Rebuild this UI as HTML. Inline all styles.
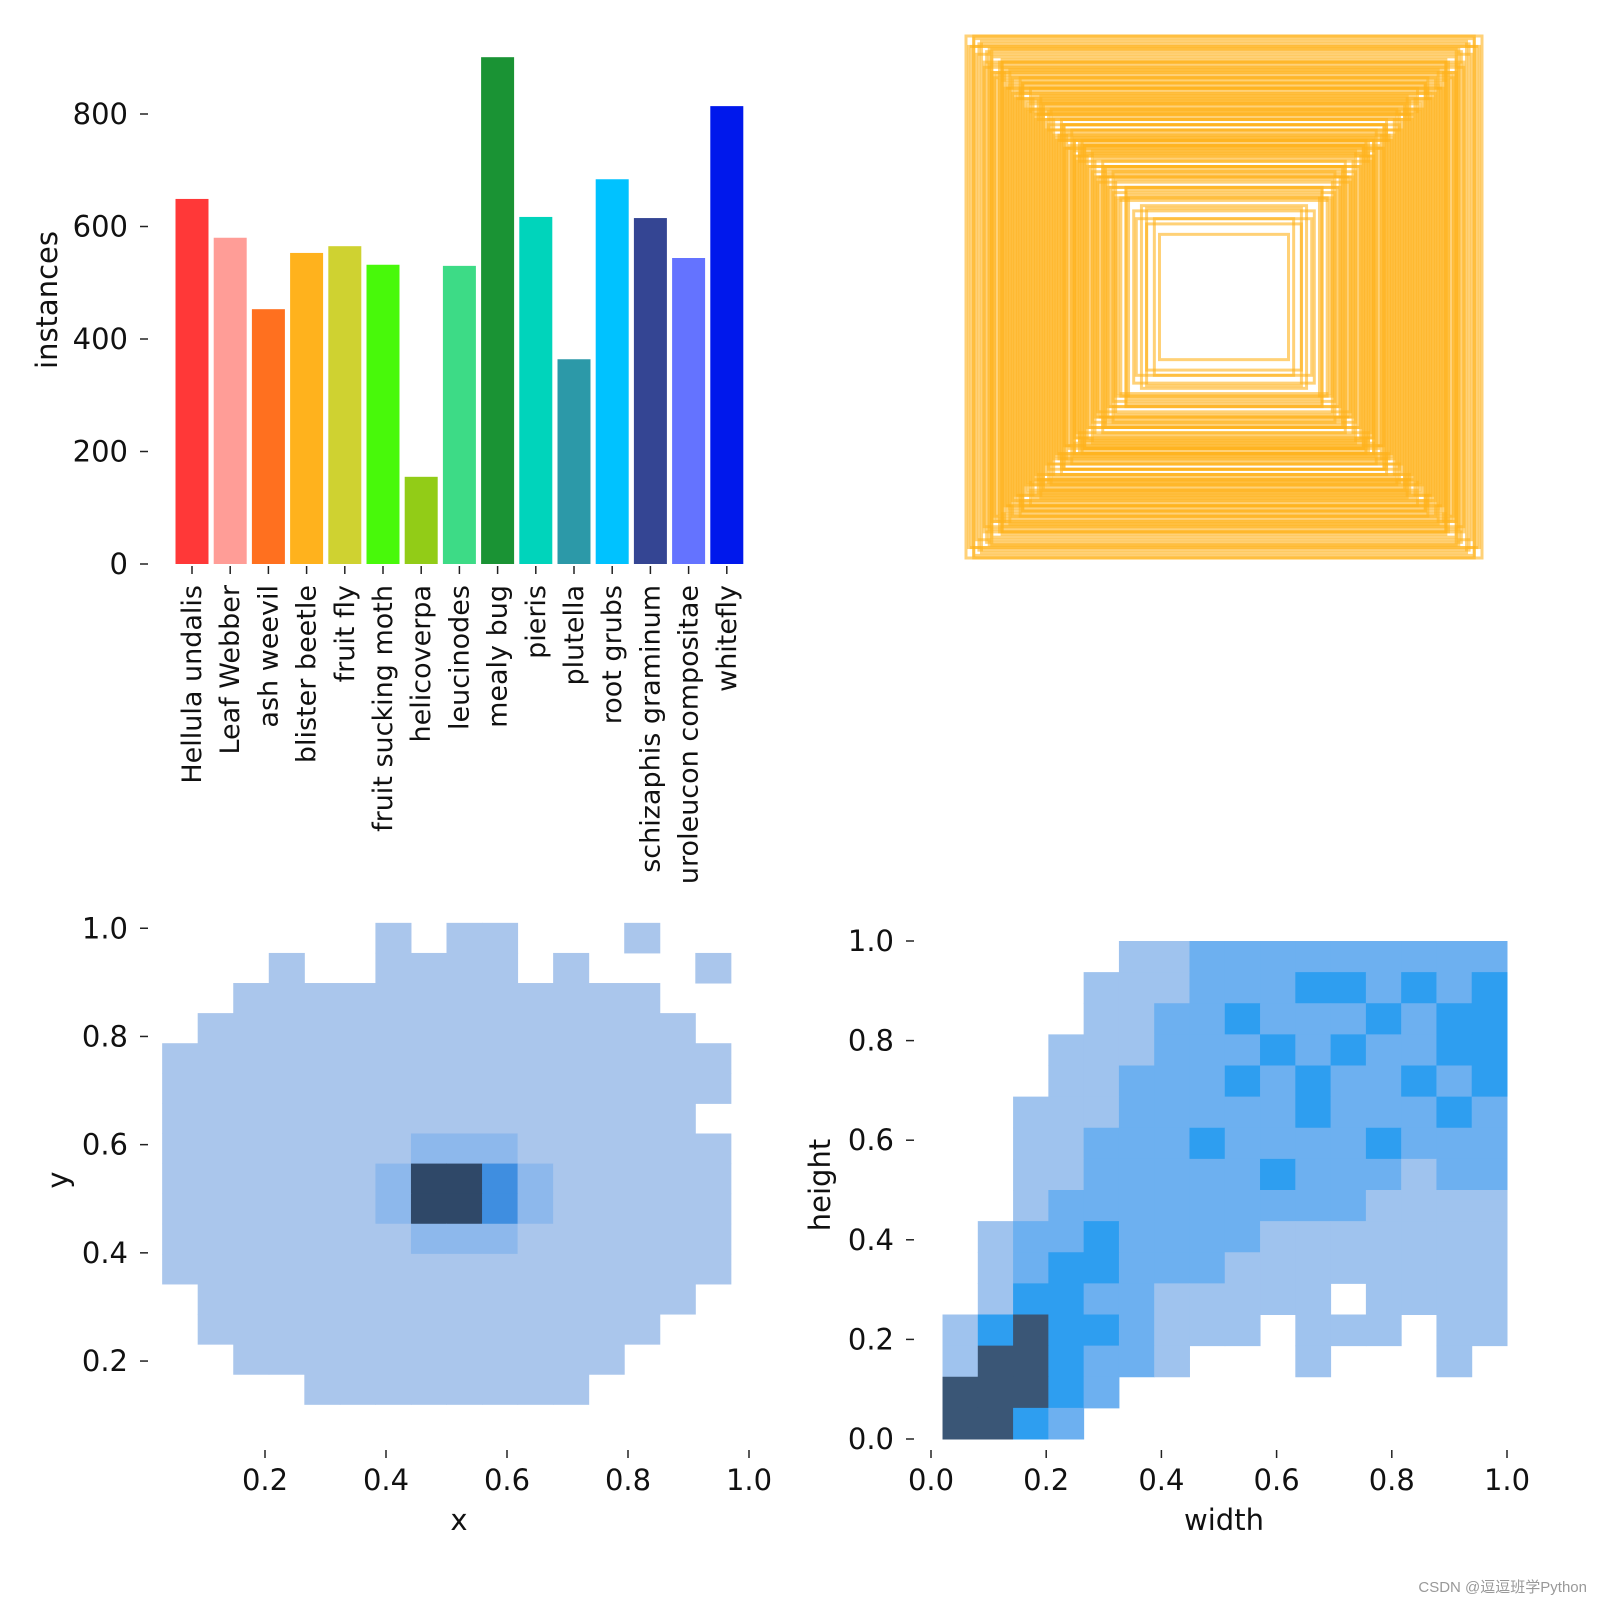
<!DOCTYPE html>
<html><head><meta charset="utf-8"><style>
html,body{margin:0;padding:0;background:#fff;}
svg{display:block;font-family:"DejaVu Sans","Liberation Sans",sans-serif;}
</style></head><body>
<svg id="root" width="1600" height="1600" viewBox="0 0 1600 1600">
<g id="bars"></g>
<g id="boxes"></g>
<g id="xy"></g>
<g id="wh"></g>
<text x="1587" y="1592" font-size="15" fill="#999" text-anchor="end" font-family="'Liberation Sans','Noto Sans CJK SC',sans-serif">CSDN @逗逗班学Python</text>
</svg>
<script>
const NS="http://www.w3.org/2000/svg";
function mk(p,t,a,txt){const e=document.createElementNS(NS,t);for(const k in a)e.setAttribute(k,a[k]);if(txt!=null)e.textContent=txt;p.appendChild(e);return e;}

// ---- bar chart data ----
const categories=["Hellula undalis","Leaf Webber","ash weevil","blister beetle","fruit fly","fruit sucking moth","helicoverpa","leucinodes","mealy bug","pieris","plutella","root grubs","schizaphis graminum","uroleucon compositae","whitefly"];
const counts=[649,580,453,553,565,532,155,530,901,617,364,684,615,544,814];
const barColors=["#FF3838","#FF9D97","#FF701F","#FFB21D","#CFD231","#48F90A","#92CC17","#3DDB86","#1A9334","#00D4BB","#2C99A8","#00C2FF","#344593","#6473FF","#0018EC"];
const yTicks=[0,200,400,600,800];

// ---- box overlay data (normalized width/height) ----
const boxW=[0.98,0.95,0.93,0.9,0.88,0.86,0.84,0.82,0.8,0.78,0.76,0.74,0.72,0.7,0.68,0.66,0.64,0.62,0.6,0.58,0.56,0.54,0.52,0.5,0.48,0.46,0.44,0.42,0.4,0.38,0.35,0.32,0.3,0.27,0.25,0.97,0.92,0.89,0.85,0.81,0.79,0.75,0.71,0.67,0.63,0.59,0.55,0.51,0.47,0.43,0.96,0.91,0.87,0.83,0.77,0.73,0.69,0.65,0.61,0.57,0.53,0.49,0.45,0.41,0.37,0.94,0.86,0.8,0.72,0.64,0.56,0.9,0.84,0.76,0.68,0.62,0.58,1.0,0.99,0.97,0.93,0.91,0.89,0.87,0.85,0.83,0.81,0.79,0.77,0.75,0.73,0.71,0.69,0.67,0.65,0.63,0.61,0.59,0.57,0.55,0.53,0.51,0.49,0.47,0.45,0.43,0.9,0.86,0.82,0.78,0.74,0.7,0.66,0.62,0.58,0.54,0.5,0.46,0.42,0.38,0.34,0.3];
const boxH=[0.96,0.97,0.9,0.92,0.85,0.88,0.8,0.84,0.78,0.82,0.74,0.77,0.7,0.73,0.66,0.69,0.62,0.66,0.58,0.61,0.55,0.58,0.5,0.53,0.46,0.49,0.42,0.45,0.38,0.41,0.33,0.35,0.28,0.3,0.24,0.99,0.94,0.86,0.87,0.79,0.8,0.72,0.74,0.64,0.66,0.56,0.58,0.48,0.5,0.4,0.93,0.89,0.83,0.81,0.75,0.7,0.68,0.6,0.63,0.52,0.55,0.44,0.47,0.37,0.39,0.98,0.91,0.76,0.75,0.6,0.59,0.95,0.82,0.71,0.71,0.57,0.6,1.0,0.96,1.0,0.88,0.95,0.84,0.9,0.8,0.87,0.76,0.84,0.72,0.8,0.68,0.77,0.64,0.72,0.61,0.68,0.57,0.64,0.54,0.6,0.5,0.56,0.46,0.52,0.42,0.48,0.86,0.9,0.78,0.82,0.7,0.74,0.62,0.66,0.54,0.58,0.46,0.5,0.38,0.42,0.3,0.34];

// ---- xy heatmap (levels 0-4), rows top (y high) to bottom ----
const xyRows=["0000001011000100","0001001111010001","0011111111111100","0111111111111110","1111111111111111","1111111111111111","1111111111111110","1111111222111111","1111112443211111","1111112443211111","1111111222111111","1111111111111111","0111111111111110","0111111111111100","0011111111111000","0000111111110000"];
// ---- width-height heatmap ----
const whRows=["0000011222222222","0000111222332323","0000112232223233","0001112223232233","0001122232322323","0011122222322232","0011222322223222","0011222223222122","0012222222221111","0122322221111111","0123322211111111","0133221111101111","1343321110111011","1443221000100010","4443200000000000","4432000000000000"];

const TF=29;
// ===== bar chart =====
(function(){
const g=document.getElementById('bars');
const y0=564,pxPer=450/800,x0=192,step=38.2,bw=33;
const ys=v=>y0-v*pxPer;
yTicks.forEach(t=>{
 const l=mk(g,'line',{x1:140,x2:148,y1:ys(t),y2:ys(t),stroke:'#222','stroke-width':1.5});
 
 
 const tx=mk(g,'text',{x:128,y:ys(t)+10,'font-size':TF,'text-anchor':'end',fill:'#111'},String(t));
 
 
});
const yl=mk(g,'text',{x:0,y:0,'font-size':TF,'text-anchor':'middle',fill:'#111',transform:'translate(57,300) rotate(-90)'},'instances');


categories.forEach((c,i)=>{
 const cx=x0+i*step;
 const r=mk(g,'rect',{x:cx-bw/2,y:ys(counts[i]),width:bw,height:counts[i]*pxPer,fill:barColors[i]});
 
 
 const tk=mk(g,'line',{x1:cx,x2:cx,y1:566,y2:574,stroke:'#222','stroke-width':1.5});
 
 
 const t=mk(g,'text',{x:0,y:0,'font-size':27,'text-anchor':'end',fill:'#111',transform:`translate(${cx+9},585) rotate(-90)`},c);
 
 
});
})();

// ===== box overlay =====
(function(){
const g=document.getElementById('boxes');
const cx=1224,cy=297,sx=516,sy=522;
boxW.forEach((w,i)=>{
 const h=boxH[i];
 const r=mk(g,'rect',{x:cx-w*sx/2,y:cy-h*sy/2,width:w*sx,height:h*sy,fill:'none',stroke:'#FFB21D','stroke-width':3,'stroke-opacity':0.6});
 
 
});
})();

// ===== heatmap helper =====
function heat(gid,rows,colors,xa,xb,ya,yb,fx,fy){
 const g=document.getElementById(gid);
 const n=rows.length,m=rows[0].length;
 const cw=(xb-xa)/m,ch=(yb-ya)/n;
 rows.forEach((row,ri)=>{
  for(let ci=0;ci<m;ci++){
   const lv=+row[ci]; if(!lv) continue;
   const top=fy(yb-ri*ch), bot=fy(yb-(ri+1)*ch);
   const left=fx(xa+ci*cw), right=fx(xa+(ci+1)*cw);
   const r=mk(g,'rect',{x:left,y:top,width:right-left+0.5,height:bot-top+0.5,fill:colors[lv]});
   
   
  }
 });
}
function axes(gid,xt,yt,fx,fy,xBase,yBase,xlab,ylab,xlx,ylx,yly){
 const g=document.getElementById(gid);
 xt.forEach(v=>{
  const a=mk(g,'line',{x1:fx(v),x2:fx(v),y1:xBase,y2:xBase+8,stroke:'#222','stroke-width':1.5});
  
  
  const t=mk(g,'text',{x:fx(v),y:xBase+40,'font-size':TF,'text-anchor':'middle',fill:'#111'},v.toFixed(1));
  
  
 });
 yt.forEach(v=>{
  const a=mk(g,'line',{x1:yBase-8,x2:yBase,y1:fy(v),y2:fy(v),stroke:'#222','stroke-width':1.5});
  
  
  const t=mk(g,'text',{x:yBase-20,y:fy(v)+10,'font-size':TF,'text-anchor':'end',fill:'#111'},v.toFixed(1));
  
  
 });
 const xl=mk(g,'text',{x:xlx,y:xBase+80,'font-size':TF,'text-anchor':'middle',fill:'#111'},xlab);
 
 
 const yl=mk(g,'text',{x:0,y:0,'font-size':TF,'text-anchor':'middle',fill:'#111',transform:`translate(${ylx},${yly}) rotate(-90)`},ylab);
 
 
}

// xy
(function(){
 const fx=v=>144+v*605, fy=v=>1469.25-v*541;
 heat('xy',xyRows,[null,'#aac6ec','#8db8ec','#3f8ee0','#2f4868'],0.03,0.97,0.12,1.01,fx,fy);
 axes('xy',[0.2,0.4,0.6,0.8,1.0],[0.2,0.4,0.6,0.8,1.0],fx,fy,1450,148,'x','y',459,68,1180);
})();
// wh
(function(){
 const fx=v=>931+v*576, fy=v=>1439-v*498;
 heat('wh',whRows,[null,'#9fc3ee','#6db0f0','#2e9ef0','#3a5676'],0.02,1.0,0.0,1.0,fx,fy);
 axes('wh',[0.0,0.2,0.4,0.6,0.8,1.0],[0.0,0.2,0.4,0.6,0.8,1.0],fx,fy,1450,914,'width','height',1224,830,1185);
})();
</script>
</body></html>
